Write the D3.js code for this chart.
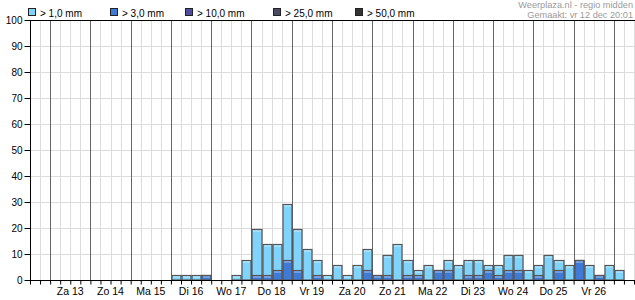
<!DOCTYPE html>
<html><head><meta charset="utf-8">
<script src="https://cdn.jsdelivr.net/npm/d3@7/dist/d3.min.js"></script>
<style>body{margin:0;background:#fff}svg{display:block}text{font-family:Arial,"Liberation Sans",sans-serif}</style>
</head><body><svg id="c" width="635" height="300"></svg>
<script>
// 6-hourly slots from Vr 12 12:00 to Za 27 06:00 (60 slots)
const dayLabels = ["Za 13","Zo 14","Ma 15","Di 16","Wo 17","Do 18","Vr 19","Za 20","Zo 21","Ma 22","Di 23","Wo 24","Do 25","Vr 26"];
const yTicks = [0,10,20,30,40,50,60,70,80,90,100];
const legendLabels = ["> 1,0 mm","> 3,0 mm","> 10,0 mm","> 25,0 mm","> 50,0 mm"];
// probability (%) of more than 1 mm / 3 mm per slot
const p1 = [0,0, 0,0,0,0, 0,0,0,0, 0,0,0,0, 2,2,2,2, 0,0,2,7.8, 19.6,13.7,13.7,29.4, 19.6,11.8,7.8,2, 5.9,2,5.9,11.8, 2,9.8,13.7,7.8, 3.9,5.9,3.9,7.8, 5.9,7.8,7.8,5.9, 5.9,9.8,9.8,3.9, 5.9,9.8,7.8,5.9, 7.8,5.9,2,5.9, 3.9,0];
const p3 = [0,0, 0,0,0,0, 0,0,0,0, 0,0,0,0, 0,0,0,2, 0,0,0,0, 2,2,3.9,7.8, 3.9,0,2,0, 0,0,0,3.9, 2,2,0,2, 2,0,3.9,3.9, 0,2,2,3.9, 2,3.9,3.9,0, 2,0,3.9,0, 7.8,0,2,0, 0,0];
const p10 = p1.map(() => 0);
const series = [p1, p3, p10];
const colors = ["#80d4fc","#3f7ad6","#4d4da0","#4a4a66","#333333"];

const svg = d3.select("#c");
const nSlots = p1.length;
const x = d3.scaleLinear().domain([0, nSlots]).range([30, 634]);
const y = d3.scaleLinear().domain([0, 100]).range([280, 20]);
const firstDay = 2;

// grid
const g = svg.append("g");
g.selectAll("line.h").data(yTicks.slice(1)).join("line")
  .attr("x1", 30).attr("x2", 635).attr("y1", d => Math.round(y(d)) + 0.5).attr("y2", d => Math.round(y(d)) + 0.5)
  .attr("stroke", "#dcdcdc");
const slotIdx = d3.range(1, nSlots + 1);
g.selectAll("line.v").data(slotIdx).join("line")
  .attr("x1", d => Math.round(x(d)) + 0.5).attr("x2", d => Math.round(x(d)) + 0.5)
  .attr("y1", 20).attr("y2", 280)
  .attr("stroke", d => ((d - firstDay) % 4 === 0) ? "#666" : "#dcdcdc");

// bars
function drawBars(vals, color) {
  const data = vals.map((v, i) => ({v, i})).filter(d => d.v > 0);
  const gb = svg.append("g");
  gb.selectAll("rect.o").data(data).join("rect")
    .attr("x", d => Math.round(x(d.i)) + 1)
    .attr("width", d => Math.round(x(d.i + 1)) - Math.round(x(d.i)) - 1)
    .attr("y", d => Math.round(y(d.v)) + 0.5)
    .attr("height", d => 280 - Math.round(y(d.v)) - 0.5)
    .attr("fill", color).attr("stroke", "#555").attr("stroke-width", 1.2);
  gb.selectAll("line.hl").data(data).join("line")
    .attr("x1", d => Math.round(x(d.i)) + 2).attr("x2", d => Math.round(x(d.i + 1)) - 1)
    .attr("y1", d => Math.round(y(d.v)) + 2).attr("y2", d => Math.round(y(d.v)) + 2)
    .attr("stroke", "rgba(255,255,255,0.55)");
}
series.forEach((s, k) => drawBars(s, colors[k]));

// axes
const ax = d3.axisLeft(y).tickValues(yTicks).tickSize(6).tickPadding(2);
const ay = svg.append("g").attr("transform", "translate(30.5,0)").call(ax);
ay.select(".domain").remove();
ay.selectAll("line").attr("stroke", "#000");
ay.selectAll("text").attr("font-size", 10).attr("fill", "#000").attr("font-family", "Arial, 'Liberation Sans', sans-serif");

const xb = d3.axisBottom(x).tickValues(d3.range(0, nSlots + 1)).tickSize(4).tickFormat("");
const gx = svg.append("g").attr("transform", "translate(0,280.5)").call(xb);
gx.select(".domain").remove();
gx.selectAll("line").attr("stroke", "#000");

svg.append("line").attr("x1", 30.5).attr("x2", 30.5).attr("y1", 20).attr("y2", 281).attr("stroke", "#000");
svg.append("line").attr("x1", 30).attr("x2", 635).attr("y1", 280.5).attr("y2", 280.5).attr("stroke", "#000");
svg.append("line").attr("x1", 30).attr("x2", 635).attr("y1", 20.5).attr("y2", 20.5).attr("stroke", "#000");

// day labels
svg.append("g").selectAll("text").data(dayLabels).join("text")
  .attr("x", (d, i) => x(firstDay + 4 * i + 2)).attr("y", 295)
  .attr("text-anchor", "middle").attr("font-size", 10.5).attr("fill", "#000").text(d => d);

// legend
const legX = [28, 110, 185, 273, 355];
const lg = svg.append("g");
legendLabels.forEach((t, i) => {
  lg.append("rect").attr("x", legX[i] + 0.5).attr("y", 8.5).attr("width", 7).attr("height", 7)
    .attr("fill", colors[i]).attr("stroke", "#222");
  lg.append("text").attr("x", legX[i] + 12).attr("y", 16.5).attr("font-size", 10).attr("fill", "#000").text(t);
});

svg.append("text").attr("x", 633).attr("y", 8).attr("text-anchor", "end").attr("font-size", 9.2).attr("fill", "#9a9a9a").text("Weerplaza.nl - regio midden");
svg.append("text").attr("x", 633).attr("y", 18).attr("text-anchor", "end").attr("font-size", 9.2).attr("fill", "#9a9a9a").text("Gemaakt: vr 12 dec 20:01");
</script></body></html>
